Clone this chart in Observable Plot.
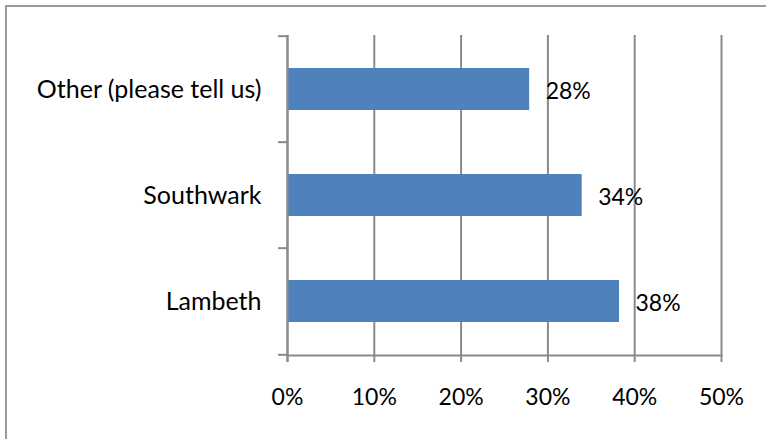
<!DOCTYPE html>
<html>
<head>
<meta charset="utf-8">
<script src="https://cdn.jsdelivr.net/npm/d3@7"></script>
<script src="https://cdn.jsdelivr.net/npm/@observablehq/plot@0.6"></script>
<style>
  html, body { margin: 0; padding: 0; background: #fff; }
  #wrap { position: relative; width: 766px; height: 439px; overflow: hidden; }
  #border { position: absolute; left: 5px; top: 5px; right: -10px; bottom: -10px; border-left: 2px solid #9a9a9a; border-top: 2px solid #9a9a9a; pointer-events: none; }
</style>
</head>
<body>
<div id="wrap"><div id="border"></div></div>
<script>
const categories = ["Other (please tell us)", "Southwark", "Lambeth"];
const values = [27.9, 33.95, 38.25];
const valueLabels = ["28%", "34%", "38%"];
const xTicks = [0, 10, 20, 30, 40, 50];

const data = categories.map((c, i) => ({category: c, value: values[i], label: valueLabels[i]}));

const W = 766, H = 439, mT = 35, mB = 84, mL = 287, mR = 45;
const step = (H - mT - mB) / categories.length;
const gray = "#8a8a8a";

const chart = Plot.plot({
  width: W, height: H,
  marginLeft: mL, marginRight: mR, marginTop: mT, marginBottom: mB,
  style: {fontFamily: "Lato, 'Open Sans', sans-serif", fontSize: "23px", color: "#000", background: "transparent"},
  x: {domain: [0, 50], label: null},
  y: {domain: categories, paddingInner: 0.606, paddingOuter: 0.303, label: null},
  marks: [
    Plot.gridX(xTicks, {stroke: gray, strokeOpacity: 1, strokeWidth: 2}),
    Plot.barX(data, {x: "value", y: "category", fill: "#4F81BD"}),
    Plot.ruleX([0], {stroke: gray, strokeWidth: 2, insetBottom: -7}),
    Plot.frame({anchor: "bottom", stroke: gray, strokeWidth: 2}),
    Plot.ruleY(categories, {y: d => d, x1: 0, x2: 0, insetLeft: -9, dy: -step / 2, stroke: gray, strokeWidth: 2}),
    Plot.ruleY([categories[categories.length - 1]], {y: d => d, x1: 0, x2: 0, insetLeft: -9, dy: step / 2, stroke: gray, strokeWidth: 2}),
    Plot.axisX(xTicks, {tickSize: 7, tickPadding: 26, tickFormat: d => d + "%", stroke: gray, strokeWidth: 2, fill: "#000", fontSize: 23}),
    Plot.axisY({tickSize: 0, tickPadding: 26, fill: "#000", fontSize: 25}),
    Plot.text(data, {x: "value", y: "category", text: "label", dx: 16, dy: 2, textAnchor: "start", fill: "#000", fontSize: 23})
  ]
});
document.getElementById("wrap").insertBefore(chart, document.getElementById("border"));
</script>
</body>
</html>
